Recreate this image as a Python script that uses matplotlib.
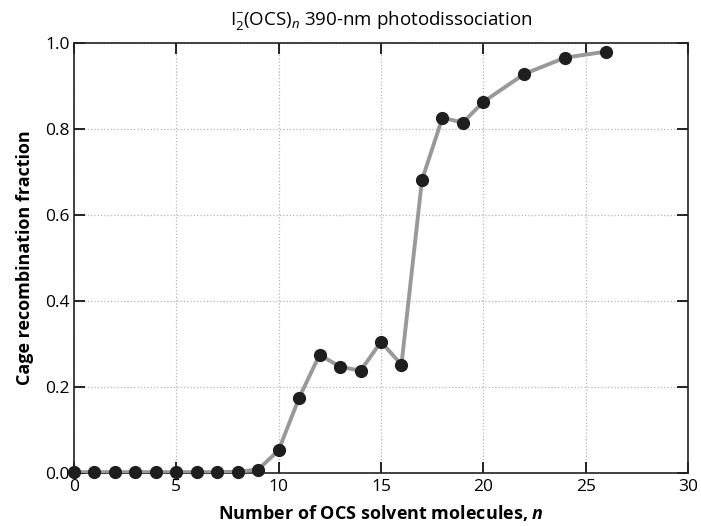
import matplotlib.pyplot as plt

# 데이터
n_values = [0, 1, 2, 3, 4, 5, 6, 7, 8, 9, 10, 11, 12, 13, 14, 15, 16, 17, 18, 19, 20, 22, 24, 26]
cage_fraction = [0.002, 0.002, 0.002, 0.002, 0.002, 0.002, 0.002, 0.002, 0.003, 0.008,
                 0.053, 0.175, 0.275, 0.247, 0.238, 0.305, 0.252, 0.681, 0.826, 0.815,
                 0.863, 0.928, 0.966, 0.980]
x_ticks = [0, 5, 10, 15, 20, 25, 30]
y_ticks = [0.0, 0.2, 0.4, 0.6, 0.8, 1.0]

plt.rcParams['font.family'] = ['Open Sans', 'DejaVu Sans']
plt.rcParams['mathtext.fontset'] = 'custom'
plt.rcParams['mathtext.rm'] = 'Open Sans'
plt.rcParams['mathtext.it'] = 'Open Sans:italic'
plt.rcParams['mathtext.bf'] = 'Open Sans:bold'
plt.rcParams['mathtext.bfit'] = 'Open Sans:bold:italic'

fig = plt.figure(figsize=(7.01, 5.26), dpi=100)
ax = fig.add_axes([74 / 701, 53 / 526, 614 / 701, 430 / 526])

ax.plot(n_values, cage_fraction, color='#999999', linewidth=2.8, zorder=3)
ax.plot(n_values, cage_fraction, 'o', color='#1e1e1e', markersize=8.5, zorder=4, clip_on=False)

ax.set_xlim(0, 30)
ax.set_ylim(0, 1.0)
ax.set_xticks(x_ticks)
ax.set_yticks(y_ticks)
ax.set_xticklabels([str(t) for t in x_ticks])
ax.set_yticklabels(['%.1f' % t for t in y_ticks])
ax.tick_params(direction='in', length=8, width=1.2, labelsize=12.5, top=True, right=True, pad=3)
ax.tick_params(axis='x', pad=4)

ax.grid(True, linestyle=':', color='#b5b5b5', linewidth=0.9)
for spine in ax.spines.values():
    spine.set_linewidth(1.2)
    spine.set_color('#222222')

ax.set_xlabel(r'Number of OCS solvent molecules, $\mathbfit{n}$', fontsize=13, fontweight='bold', labelpad=6)
ax.set_ylabel('Cage recombination fraction', fontsize=13, fontweight='bold', labelpad=8)
ax.set_title(r'I$_2^{-}$(OCS)$_n$ 390-nm photodissociation', fontsize=13.5, pad=13)

plt.savefig('out.png', dpi=100)
